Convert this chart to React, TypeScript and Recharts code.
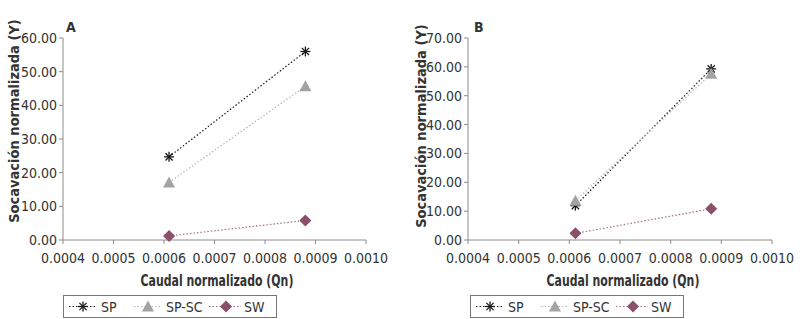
import React from 'react'
import { LineChart, Line, XAxis, YAxis } from 'recharts'

const xTicks = [0.0004, 0.0005, 0.0006, 0.0007, 0.0008, 0.0009, 0.001]

const qnA = [0.00061, 0.00088]
const spA = [24.7, 56.0]
const spscA = [17.1, 45.7]
const swA = [1.2, 5.8]
const yTicksA = [0, 10, 20, 30, 40, 50, 60]

const qnB = [0.000612, 0.00088]
const spB = [11.9, 59.3]
const spscB = [13.6, 57.6]
const swB = [2.3, 10.8]
const yTicksB = [0, 10, 20, 30, 40, 50, 60, 70]

const FONT = '"DejaVu Sans", sans-serif'
const AXIS = '#8c8c8c'
const TEXT = '#333'
const C_SP = '#1a1a1a'
const C_SPSC = '#a3a3a3'
const C_SW = '#8a4f69'

function rows(qn: number[], sp: number[], spsc: number[], sw: number[]) {
  return qn.map((q, i) => ({ qn: q, SP: sp[i], SPSC: spsc[i], SW: sw[i] }))
}

function Star({ cx, cy }: { cx: number; cy: number }) {
  const r = 5
  const d = 3.6
  return (
    <g stroke={C_SP} strokeWidth={1.3}>
      <line x1={cx - r} y1={cy} x2={cx + r} y2={cy} />
      <line x1={cx} y1={cy - r} x2={cx} y2={cy + r} />
      <line x1={cx - d} y1={cy - d} x2={cx + d} y2={cy + d} />
      <line x1={cx - d} y1={cy + d} x2={cx + d} y2={cy - d} />
    </g>
  )
}

function Tri({ cx, cy }: { cx: number; cy: number }) {
  return <polygon points={`${cx},${cy - 6} ${cx - 6},${cy + 5} ${cx + 6},${cy + 5}`} fill={C_SPSC} />
}

function Diamond({ cx, cy }: { cx: number; cy: number }) {
  return <polygon points={`${cx},${cy - 6} ${cx + 6},${cy} ${cx},${cy + 6} ${cx - 6},${cy}`} fill={C_SW} />
}

const tickStyle = { fill: TEXT, fontSize: 14, fontFamily: FONT, fontStretch: 'condensed' }

function Panel(props: {
  left: number
  yAxisW: number
  right: number
  yMax: number
  yTicks: number[]
  data: ReturnType<typeof rows>
}) {
  const { left, yAxisW, right, yMax, yTicks, data } = props
  return (
    <div style={{ position: 'absolute', left, top: 0 }}>
      <LineChart width={400} height={319} data={data} margin={{ top: 38, right, left: 0, bottom: 54 }}>
        <XAxis
          dataKey="qn"
          type="number"
          domain={[0.0004, 0.001]}
          ticks={xTicks}
          tickFormatter={(v: number) => v.toFixed(4)}
          tick={tickStyle}
          stroke={AXIS}
          tickSize={4}
          tickMargin={9}
          height={25}
          interval={0}
        />
        <YAxis
          type="number"
          domain={[0, yMax]}
          ticks={yTicks}
          tickFormatter={(v: number) => v.toFixed(2)}
          tick={tickStyle}
          stroke={AXIS}
          tickSize={4}
          tickMargin={2}
          width={yAxisW}
          interval={0}
        />
        <Line
          dataKey="SP"
          stroke={C_SP}
          strokeWidth={1.2}
          strokeDasharray="1.5 2"
          isAnimationActive={false}
          dot={(p: any) => <Star key={`sp-${p.index}`} cx={p.cx} cy={p.cy} />}
        />
        <Line
          dataKey="SPSC"
          stroke="#b5b5b5"
          strokeWidth={1.2}
          strokeDasharray="1.5 2"
          isAnimationActive={false}
          dot={(p: any) => <Tri key={`sc-${p.index}`} cx={p.cx} cy={p.cy} />}
        />
        <Line
          dataKey="SW"
          stroke="#9a7385"
          strokeWidth={1.2}
          strokeDasharray="1.5 2"
          isAnimationActive={false}
          dot={(p: any) => <Diamond key={`sw-${p.index}`} cx={p.cx} cy={p.cy} />}
        />
      </LineChart>
    </div>
  )
}

function LegendBox({ left }: { left: number }) {
  const dash = '1.5 2'
  const ts = { fontSize: 14, fontFamily: FONT, fontStretch: 'condensed', fill: TEXT } as any
  return (
    <svg style={{ position: 'absolute', left, top: 295 }} width={214} height={23}>
      <rect x={0.5} y={0.5} width={213} height={22} fill="#fff" stroke="#777" />
      <line x1={6} y1={11.5} x2={34} y2={11.5} stroke={C_SP} strokeDasharray={dash} strokeWidth={1.2} />
      <Star cx={20} cy={11.5} />
      <text x={38} y={16.5} style={ts}>SP</text>
      <line x1={71} y1={11.5} x2={99} y2={11.5} stroke="#b5b5b5" strokeDasharray={dash} strokeWidth={1.2} />
      <Tri cx={85} cy={11.5} />
      <text x={103} y={16.5} style={ts}>SP-SC</text>
      <line x1={146} y1={11.5} x2={178} y2={11.5} stroke="#9a7385" strokeDasharray={dash} strokeWidth={1.2} />
      <Diamond cx={163} cy={11.5} />
      <text x={181} y={16.5} style={ts}>SW</text>
    </svg>
  )
}

const labelBase: React.CSSProperties = {
  position: 'absolute',
  fontFamily: FONT,
  fontStretch: 'condensed',
  fontWeight: 700,
  color: TEXT,
  whiteSpace: 'nowrap',
  lineHeight: 1,
}

function Labels({ letter, lx, yx, yy, xx }: { letter: string; lx: number; yx: number; yy: number; xx: number }) {
  return (
    <>
      <div style={{ ...labelBase, left: lx, top: 20, fontSize: 14 }}>{letter}</div>
      <div style={{ ...labelBase, left: yx, top: yy, fontSize: 14.5, transform: 'translate(-50%, -50%) rotate(-90deg)' }}>
        Socavación normalizada (Y)
      </div>
      <div style={{ ...labelBase, left: xx, top: 281, fontSize: 15, transform: 'translate(-50%, -50%) scaleX(0.81)' }}>
        Caudal normalizado (Qn)
      </div>
    </>
  )
}

export default function App() {
  const dataA = rows(qnA, spA, spscA, swA)
  const dataB = rows(qnB, spB, spscB, swB)
  return (
    <div style={{ position: 'absolute', left: 0, top: 0, width: 800, height: 319, background: '#fff', overflow: 'hidden' }}>
      <Panel left={0} yAxisW={63} right={34} yMax={60} yTicks={yTicksA} data={dataA} />
      <Panel left={400} yAxisW={68} right={28} yMax={70} yTicks={yTicksB} data={dataB} />
      <Labels letter="A" lx={66} yx={14} yy={121} xx={217} />
      <Labels letter="B" lx={474} yx={421} yy={126} xx={623} />
      <LegendBox left={63} />
      <LegendBox left={470} />
    </div>
  )
}
